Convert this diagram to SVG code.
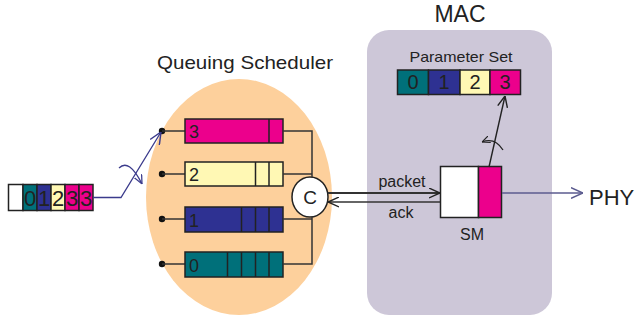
<svg xmlns="http://www.w3.org/2000/svg" width="636" height="320" viewBox="0 0 636 320">
<defs>
<style>
text{font-family:"Liberation Sans",Arial,sans-serif;fill:#222}
.cell{stroke:#222;stroke-width:1.5}
.teal{fill:#00707a}.navy{fill:#2e3192}.yel{fill:#fff8b4}.mag{fill:#ec008c}.wht{fill:#fff}
.ln{fill:none;stroke:#333;stroke-width:1.5}
.blue{fill:none;stroke:#3b3b8c;stroke-width:1.3}
.dot{fill:#111}
</style>
<marker id="ah" viewBox="0 0 10 10" refX="10" refY="5" markerWidth="11" markerHeight="11" markerUnits="userSpaceOnUse" orient="auto"><path d="M0,0.5 L10,5 L0,9.5" fill="none" stroke="#222" stroke-width="1.3"/></marker>
<marker id="ahb" viewBox="0 0 10 10" refX="10" refY="5" markerWidth="12" markerHeight="12" markerUnits="userSpaceOnUse" orient="auto"><path d="M0,0.5 L10,5 L0,9.5" fill="none" stroke="#3b3b8c" stroke-width="1.2"/></marker>
<marker id="ahp" viewBox="0 0 10 10" refX="10" refY="5" markerWidth="12" markerHeight="12" markerUnits="userSpaceOnUse" orient="auto"><path d="M0,0.5 L10,5 L0,9.5" fill="none" stroke="#5b5b8f" stroke-width="1.2"/></marker>
<marker id="ahs" viewBox="0 0 10 10" refX="10" refY="5" markerWidth="8" markerHeight="8" markerUnits="userSpaceOnUse" orient="auto"><path d="M0,0.5 L10,5 L0,9.5" fill="none" stroke="#222" stroke-width="1.4"/></marker>
<marker id="ahsb" viewBox="0 0 10 10" refX="10" refY="5" markerWidth="9" markerHeight="9" markerUnits="userSpaceOnUse" orient="auto"><path d="M0,0.5 L10,5 L0,9.5" fill="none" stroke="#3b3b8c" stroke-width="1.4"/></marker>
</defs>

<g id="mac">
<rect x="367" y="30" width="185" height="285" rx="22" fill="#cdc7d8"/>
<text x="460" y="22" font-size="23" text-anchor="middle">MAC</text>
</g>

<g id="scheduler">
<ellipse cx="239" cy="197" rx="93" ry="118" fill="#fdd09c"/>
<text x="245" y="69" font-size="19" text-anchor="middle" textLength="176" lengthAdjust="spacingAndGlyphs">Queuing Scheduler</text>
</g>

<g id="queue-3">
<circle class="dot" cx="162" cy="131" r="3.2"/>
<line class="ln" x1="162" y1="131" x2="185" y2="131" stroke-width="1.2"/>
<rect class="cell mag" x="185" y="119" width="98" height="24"/>
<line class="cell" x1="269" y1="119" x2="269" y2="143"/>
<text x="189" y="138" font-size="18">3</text>
</g>
<g id="queue-2">
<circle class="dot" cx="162" cy="174" r="3.2"/>
<line class="ln" x1="162" y1="174" x2="185" y2="174" stroke-width="1.2"/>
<rect class="cell yel" x="185" y="162" width="98" height="24"/>
<line class="cell" x1="255.5" y1="162" x2="255.5" y2="186"/>
<line class="cell" x1="269" y1="162" x2="269" y2="186"/>
<text x="189" y="181" font-size="18">2</text>
</g>
<g id="queue-1">
<circle class="dot" cx="162" cy="219" r="3.2"/>
<line class="ln" x1="162" y1="219" x2="185" y2="219" stroke-width="1.2"/>
<rect class="cell navy" x="185" y="207" width="98" height="25"/>
<line class="cell" x1="241.5" y1="207" x2="241.5" y2="232"/>
<line class="cell" x1="255.5" y1="207" x2="255.5" y2="232"/>
<line class="cell" x1="269" y1="207" x2="269" y2="232"/>
<text x="189" y="227" font-size="18">1</text>
</g>
<g id="queue-0">
<circle class="dot" cx="162" cy="264" r="3.2"/>
<line class="ln" x1="162" y1="264" x2="185" y2="264" stroke-width="1.2"/>
<rect class="cell teal" x="185" y="252" width="98" height="25"/>
<line class="cell" x1="227.5" y1="252" x2="227.5" y2="277"/>
<line class="cell" x1="241.5" y1="252" x2="241.5" y2="277"/>
<line class="cell" x1="255.5" y1="252" x2="255.5" y2="277"/>
<line class="cell" x1="269" y1="252" x2="269" y2="277"/>
<text x="189" y="272" font-size="18">0</text>
</g>

<g id="input-queue">
<rect class="cell wht" x="8.5" y="184.5" width="14.5" height="26"/>
<rect class="cell teal" x="23" y="184.5" width="14" height="26"/>
<rect class="cell navy" x="37" y="184.5" width="14" height="26"/>
<rect class="cell yel" x="51" y="184.5" width="14" height="26"/>
<rect class="cell mag" x="65" y="184.5" width="14" height="26"/>
<rect class="cell mag" x="79" y="184.5" width="14" height="26"/>
<g font-size="22" text-anchor="middle">
<text x="30" y="206">0</text><text x="44" y="206">1</text><text x="58" y="206">2</text><text x="72" y="206">3</text><text x="86" y="206">3</text>
</g>
</g>

<g id="param-set">
<text x="461" y="62" font-size="15" text-anchor="middle" textLength="103" lengthAdjust="spacingAndGlyphs">Parameter Set</text>
<rect class="cell teal" x="397.5" y="70" width="31" height="24.5"/>
<rect class="cell navy" x="428.5" y="70" width="31.5" height="24.5"/>
<rect class="cell yel" x="460" y="70" width="30" height="24.5"/>
<rect class="cell mag" x="490" y="70" width="30.5" height="24.5"/>
<g font-size="20" text-anchor="middle">
<text x="413" y="89">0</text><text x="444" y="89">1</text><text x="475" y="89">2</text><text x="505" y="89">3</text>
</g>
</g>

<g id="c-node">
<ellipse cx="310" cy="197" rx="18" ry="20" fill="#fff" stroke="#222" stroke-width="1.5"/>
<text x="310" y="204" font-size="19" text-anchor="middle">C</text>
</g>

<g id="sm">
<rect x="440.5" y="166.5" width="38" height="51" fill="#fff" stroke="#222" stroke-width="1.5"/>
<rect x="478.5" y="166.5" width="23" height="51" fill="#ec008c" stroke="#222" stroke-width="1.5"/>
<text x="472" y="240" font-size="16" text-anchor="middle">SM</text>
</g>

<g id="phy">
<text x="589" y="205" font-size="22">PHY</text>
</g>

<g id="connectors">
<path class="ln" d="M283 131 H312 V177"/>
<path class="ln" d="M283 174 H312"/>
<path class="ln" d="M283 219 H312"/>
<path class="ln" d="M312 217 V264 H283"/>
<path class="blue" d="M93 197.5 H121 L161 132" marker-end="url(#ahb)"/>
<path class="blue" d="M119 168 Q129 158 142 184" marker-end="url(#ahsb)"/>
<line x1="328" y1="193" x2="440" y2="193" stroke="#333" stroke-width="1.8" marker-end="url(#ah)"/>
<line x1="440" y1="202" x2="328" y2="202" stroke="#333" stroke-width="1.5" marker-end="url(#ah)"/>
<text x="402" y="187" font-size="16" text-anchor="middle">packet</text>
<text x="401" y="218" font-size="16" text-anchor="middle">ack</text>
<line x1="502" y1="193" x2="583" y2="193" stroke="#5b5b8f" stroke-width="1.4" marker-end="url(#ahp)"/>
<line x1="489" y1="167" x2="505" y2="96" stroke="#222" stroke-width="1.4" marker-end="url(#ah)"/>
<path d="M503 150 Q495 137 482 142" fill="none" stroke="#222" stroke-width="1.3" marker-end="url(#ahs)"/>
</g>
</svg>
